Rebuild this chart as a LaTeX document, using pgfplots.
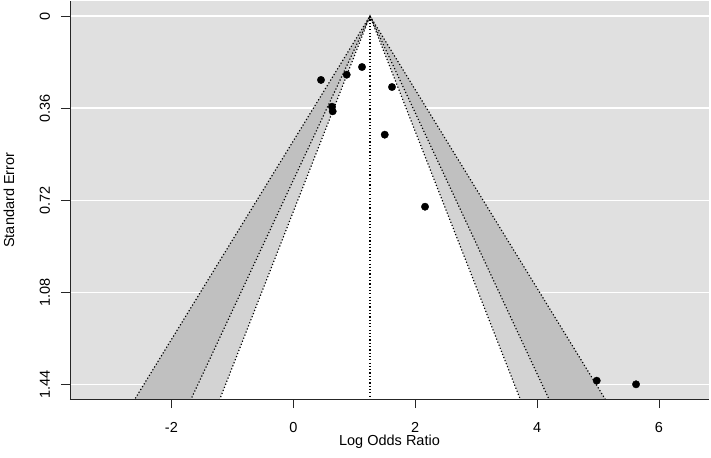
\documentclass[border=0pt]{standalone}
\usepackage{pgfplots}
\pgfplotsset{compat=1.18}
\usepackage{fontspec}
\setmainfont{Liberation Sans}
\definecolor{bgcol}{HTML}{E0E0E0}
\definecolor{bandlight}{HTML}{D3D3D3}
\definecolor{banddark}{HTML}{C0C0C0}
\newcommand{\fs}{\fontsize{14.5bp}{17bp}\selectfont}
\begin{document}
\begin{tikzpicture}
\useasboundingbox (-70bp,-59bp) rectangle (641bp,399bp);
\begin{axis}[
  scale only axis,
  width=639bp, height=397.7bp,
  xmin=-3.664, xmax=6.820,
  ymin=-0.0575, ymax=1.4974,
  y dir=reverse,
  axis on top,
  axis x line=bottom, axis y line=left,
  axis line style={-, black!85, line width=0.8bp},
  axis background/.style={fill=bgcol},
  xtick={-2,0,2,4,6}, xticklabels={-2,0,2,4,6},
  ytick={0,0.36,0.72,1.08,1.44}, yticklabels={0,0.36,0.72,1.08,1.44},
  tick align=outside, major tick length=9bp,
  tick style={black!85, line width=0.8bp},
  tick label style={font=\fs},
  label style={font=\fs},
  xticklabel style={anchor=base, inner sep=0pt},
  xticklabel shift=24bp,
  yticklabel style={rotate=90, anchor=base, inner sep=0pt},
  yticklabel shift=11bp,
  xlabel={Log Odds Ratio},
  ylabel={Standard Error},
  xlabel style={at={(axis description cs:0.5,-0.1157)}, anchor=base, inner sep=0pt},
  ylabel style={at={(axis description cs:-0.0876,0.5)}, anchor=base, rotate=0, inner sep=0pt},
  clip=true,
  dotline/.style={black, line width=1.15bp, dash pattern=on 1.2bp off 2.1bp},
]
% white horizontal grid lines
\addplot[white, line width=1.2bp] coordinates {(-3.664,0) (6.82,0)};
\addplot[white, line width=1.2bp] coordinates {(-3.664,0.36) (6.82,0.36)};
\addplot[white, line width=1.2bp] coordinates {(-3.664,0.72) (6.82,0.72)};
\addplot[white, line width=1.2bp] coordinates {(-3.664,1.08) (6.82,1.08)};
\addplot[white, line width=1.2bp] coordinates {(-3.664,1.44) (6.82,1.44)};
% 99% region
\addplot[fill=banddark, draw=none] coordinates {(1.258,0) (-2.7345,1.55) (5.2505,1.55) (1.258,0)};
% 95% region
\addplot[fill=bandlight, draw=none] coordinates {(1.258,0) (-1.7799,1.55) (4.2963,1.55) (1.258,0)};
% 90% region
\addplot[fill=white, draw=none] coordinates {(1.258,0) (-1.2915,1.55) (3.8075,1.55) (1.258,0)};
% dotted boundaries
\addplot[dotline] coordinates {(-2.7345,1.55) (1.258,0) (5.2505,1.55)};
\addplot[dotline] coordinates {(-1.7799,1.55) (1.258,0) (4.2963,1.55)};
\addplot[dotline] coordinates {(-1.2915,1.55) (1.258,0) (3.8075,1.55)};
\addplot[dotline] coordinates {(1.258,0) (1.258,1.55)};
% studies
\addplot[only marks, mark=*, mark size=3.7bp, black] coordinates {
  (0.454,0.250) (0.876,0.2295) (1.127,0.1994) (1.619,0.2776)
  (0.635,0.3546) (0.646,0.3726) (1.500,0.464) (2.161,0.7456)
  (4.978,1.4258) (5.623,1.440)
};
\end{axis}
\end{tikzpicture}
\end{document}
